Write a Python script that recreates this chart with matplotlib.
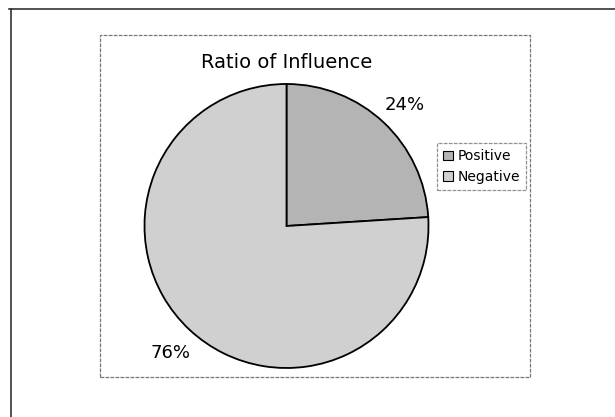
import matplotlib
matplotlib.use("Agg")
import matplotlib.pyplot as plt
from matplotlib.patches import Rectangle
from matplotlib.lines import Line2D

# data
labels = ["Positive", "Negative"]
shares = [24, 76]
colors = ["#b4b4b4", "#d0d0d0"]
title = "Ratio of Influence"

W, H = 615, 417
fig = plt.figure(figsize=(W / 100, H / 100), dpi=100)

def fx(px):
    return px / W

def fy(py):
    return 1 - py / H

# outer frame (only top and left edges are visible)
fig.add_artist(Line2D([fx(9), fx(615)], [fy(9), fy(9)], color="#333333", lw=1.2))
fig.add_artist(Line2D([fx(11), fx(11)], [fy(9), fy(417)], color="#333333", lw=1.2))

# chart area box
fig.add_artist(Rectangle((fx(100), fy(377)), fx(430), 342 / H, fill=False,
                         edgecolor="#777777", lw=0.9, linestyle=(0, (3, 1))))

# pie axes: center (286.5, 226), radius 142 px
cx, cy, r = 286.5, 226, 142
ax = fig.add_axes([fx(cx - r), fy(cy + r), 2 * r / W, 2 * r / H])
wedges, _ = ax.pie(shares, colors=colors, startangle=90, counterclock=False,
                   wedgeprops=dict(edgecolor="black", linewidth=1.3))
ax.set_xlim(-1, 1)
ax.set_ylim(-1, 1)
ax.set_aspect("auto")
ax.axis("off")

# percentage labels
fig.text(fx(405), fy(105), f"{shares[0]}%", ha="center", va="center", fontsize=13)
fig.text(fx(170), fy(353), f"{shares[1]}%", ha="center", va="center", fontsize=13)

fig.text(fx(287), fy(62), title, ha="center", va="center", fontsize=14)

leg = fig.legend(wedges, labels, loc="upper left",
                 bbox_to_anchor=(fx(437), fy(143)), bbox_transform=fig.transFigure,
                 fontsize=10, frameon=True, fancybox=False, borderaxespad=0,
                 handlelength=0.7, handleheight=0.7, handletextpad=0.3,
                 borderpad=0.45, labelspacing=0.5)
frame = leg.get_frame()
frame.set_edgecolor("#777777")
frame.set_linestyle((0, (3, 1)))
frame.set_linewidth(0.9)
for h in leg.legend_handles:
    h.set_edgecolor("black")
    h.set_linewidth(0.8)

fig.savefig("out.png", dpi=100)
